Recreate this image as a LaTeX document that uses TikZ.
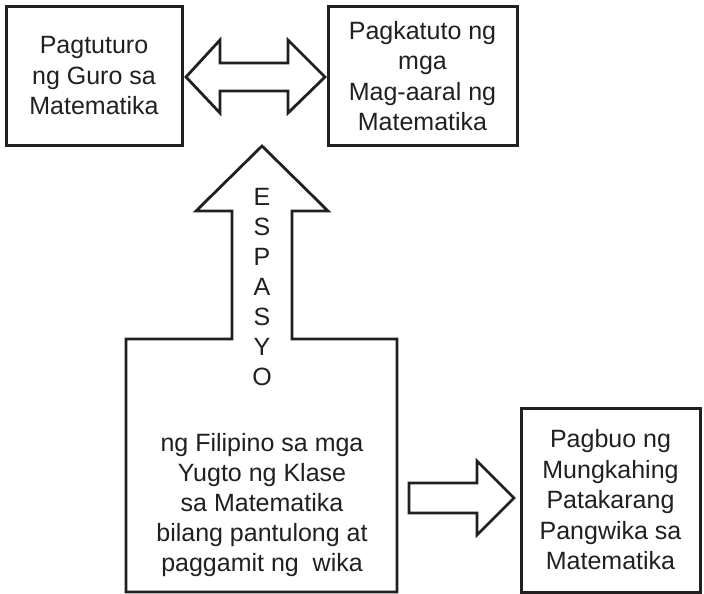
\documentclass[tikz,border=0pt]{standalone}
\usepackage{fontspec}
\setmainfont{Liberation Sans}
\usetikzlibrary{positioning}
\definecolor{ink}{RGB}{35,31,32}

\tikzset{
  txt/.style={font=\fontsize{25}{30.5}\selectfont, align=center, text=ink},
  box/.style={txt, draw=ink, line width=3pt, inner sep=0pt},
  blockarrow/.style={draw=ink, line width=2.8pt, line join=miter, fill=white}
}

\begin{document}
\begin{tikzpicture}[x=1pt, y=-1pt, on grid]
   \useasboundingbox (0,0) rectangle (704,594);

   \node[box, minimum width=176pt, minimum height=138pt] (guro) at (94,76) {Pagtuturo\\ng Guro sa\\Matematika};
   \node[box, minimum width=189pt, minimum height=138pt, right=328.5pt of guro] (aaral) {Pagkatuto ng\\mga\\Mag-aaral ng\\Matematika};

   % double arrow between the two top boxes
   \draw[blockarrow] (186,77) -- (220,40) -- (220,63) -- (288,63) -- (288,40) -- (325,77)
      -- (288,113) -- (288,91) -- (220,91) -- (220,113) -- cycle;

   % box with the arrow going up
   \draw[blockarrow] (126,339) -- (232,339) -- (232,211) -- (196,211) -- (262,146)
      -- (328,211) -- (292,211) -- (292,339) -- (397,339) -- (397,592) -- (126,592) -- cycle;
   \node[txt, font=\fontsize{25}{30}\selectfont] (espasyo) at (262,287) {E\\S\\P\\A\\S\\Y\\O};
   \node[txt, font=\fontsize{25}{30}\selectfont] (yugto) at (262,505) {ng Filipino sa mga\\Yugto ng Klase\\sa Matematika\\bilang pantulong at\\paggamit ng~~wika};

   \node[box, minimum width=179pt, minimum height=184pt] (pagbuo) at (610.5,500) {Pagbuo ng\\Mungkahing\\Patakarang\\Pangwika sa\\Matematika};

   % arrow towards the last box
   \draw[blockarrow] (409,483) -- (477,483) -- (477,461) -- (514,498) -- (477,535)
      -- (477,513) -- (409,513) -- cycle;
\end{tikzpicture}
\end{document}
